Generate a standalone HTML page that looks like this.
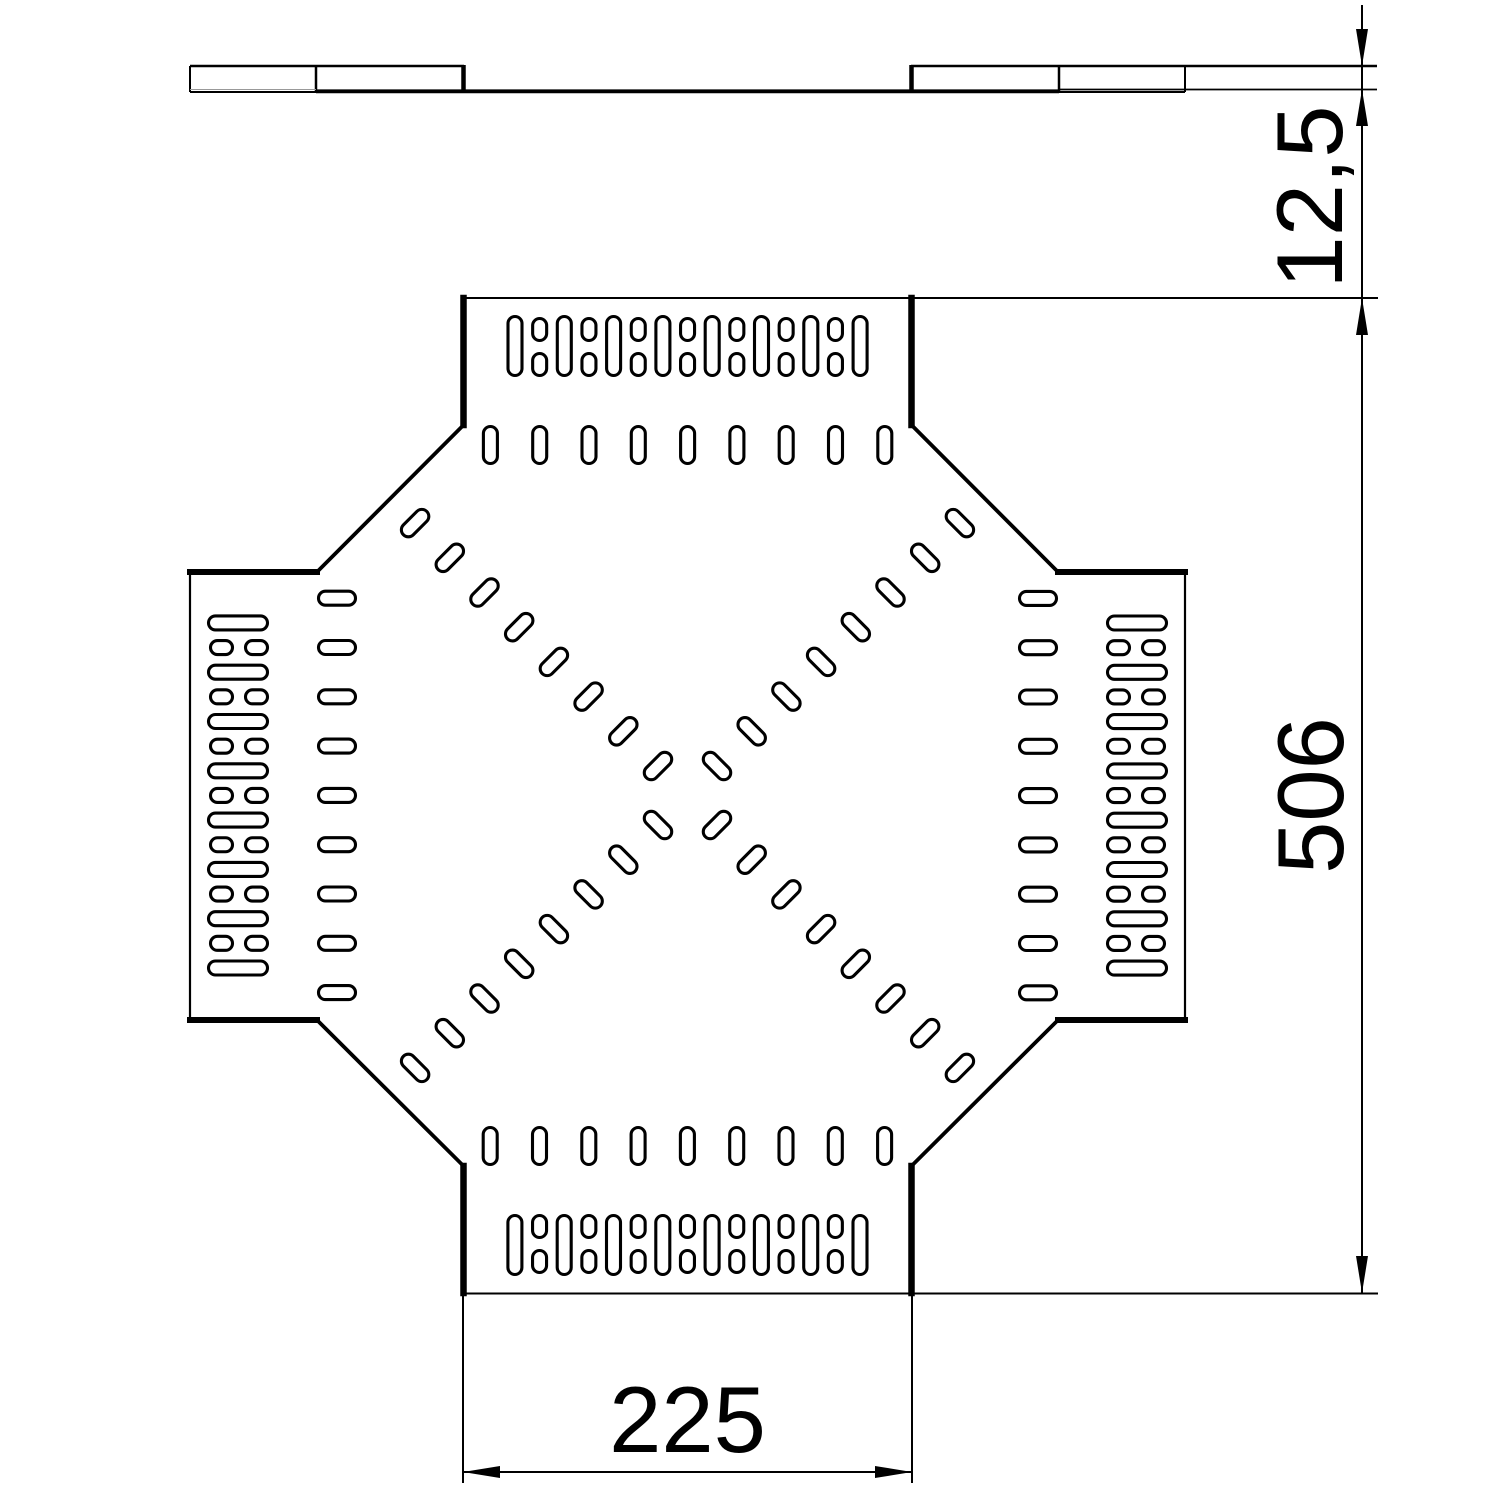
<!DOCTYPE html>
<html>
<head>
<meta charset="utf-8">
<style>
  html, body { margin: 0; padding: 0; background: #ffffff; }
  svg { display: block; }
  .s { fill: none; stroke: #000; stroke-width: 3.1; }
  text { font-family: "Liberation Sans", Arial, sans-serif; font-size: 94px; fill: #000; }
</style>
</head>
<body>
<svg width="1500" height="1500" viewBox="0 0 1500 1500" xmlns="http://www.w3.org/2000/svg">
  <rect x="0" y="0" width="1500" height="1500" fill="#fff"/>

  <defs>
    <g id="arm" class="s">
      <!-- long slots -->
      <rect x="508" y="316.5" width="14" height="59" rx="7"/>
      <rect x="557.3" y="316.5" width="14" height="59" rx="7"/>
      <rect x="606.6" y="316.5" width="14" height="59" rx="7"/>
      <rect x="655.9" y="316.5" width="14" height="59" rx="7"/>
      <rect x="705.2" y="316.5" width="14" height="59" rx="7"/>
      <rect x="754.5" y="316.5" width="14" height="59" rx="7"/>
      <rect x="803.8" y="316.5" width="14" height="59" rx="7"/>
      <rect x="853.1" y="316.5" width="14" height="59" rx="7"/>
      <!-- small pairs -->
      <rect x="532.65" y="318.5" width="14" height="22" rx="7"/>
      <rect x="532.65" y="353.5" width="14" height="22" rx="7"/>
      <rect x="581.95" y="318.5" width="14" height="22" rx="7"/>
      <rect x="581.95" y="353.5" width="14" height="22" rx="7"/>
      <rect x="631.25" y="318.5" width="14" height="22" rx="7"/>
      <rect x="631.25" y="353.5" width="14" height="22" rx="7"/>
      <rect x="680.55" y="318.5" width="14" height="22" rx="7"/>
      <rect x="680.55" y="353.5" width="14" height="22" rx="7"/>
      <rect x="729.85" y="318.5" width="14" height="22" rx="7"/>
      <rect x="729.85" y="353.5" width="14" height="22" rx="7"/>
      <rect x="779.15" y="318.5" width="14" height="22" rx="7"/>
      <rect x="779.15" y="353.5" width="14" height="22" rx="7"/>
      <rect x="828.45" y="318.5" width="14" height="22" rx="7"/>
      <rect x="828.45" y="353.5" width="14" height="22" rx="7"/>
      <!-- single slots row -->
      <rect x="483.4" y="426.5" width="14" height="37" rx="7"/>
      <rect x="532.7" y="426.5" width="14" height="37" rx="7"/>
      <rect x="582" y="426.5" width="14" height="37" rx="7"/>
      <rect x="631.3" y="426.5" width="14" height="37" rx="7"/>
      <rect x="680.6" y="426.5" width="14" height="37" rx="7"/>
      <rect x="729.9" y="426.5" width="14" height="37" rx="7"/>
      <rect x="779.2" y="426.5" width="14" height="37" rx="7"/>
      <rect x="828.5" y="426.5" width="14" height="37" rx="7"/>
      <rect x="877.8" y="426.5" width="14" height="37" rx="7"/>
    </g>
    <g id="diag" class="s">
      <rect x="-16.5" y="-7" width="33" height="14" rx="7" transform="translate(658,766) rotate(-45)"/>
      <rect x="-16.5" y="-7" width="33" height="14" rx="7" transform="translate(623.3,731.3) rotate(-45)"/>
      <rect x="-16.5" y="-7" width="33" height="14" rx="7" transform="translate(588.6,696.6) rotate(-45)"/>
      <rect x="-16.5" y="-7" width="33" height="14" rx="7" transform="translate(553.9,661.9) rotate(-45)"/>
      <rect x="-16.5" y="-7" width="33" height="14" rx="7" transform="translate(519.2,627.2) rotate(-45)"/>
      <rect x="-16.5" y="-7" width="33" height="14" rx="7" transform="translate(484.5,592.5) rotate(-45)"/>
      <rect x="-16.5" y="-7" width="33" height="14" rx="7" transform="translate(449.8,557.8) rotate(-45)"/>
      <rect x="-16.5" y="-7" width="33" height="14" rx="7" transform="translate(415.1,523.1) rotate(-45)"/>
    </g>
  </defs>

  <!-- ===== Side view (top) ===== -->
  <g stroke="#000" fill="none">
    <line x1="190" y1="66" x2="464" y2="66" stroke-width="2.5"/>
    <line x1="190" y1="66" x2="190" y2="92" stroke-width="2"/>
    <line x1="316" y1="66" x2="316" y2="92" stroke-width="2.5"/>
    <line x1="463.5" y1="65" x2="463.5" y2="93" stroke-width="4.5"/>
    <line x1="190" y1="92" x2="316" y2="92" stroke-width="2"/>
    <line x1="190" y1="89.5" x2="316" y2="89.5" stroke-width="1" stroke="#999"/>
    <line x1="316" y1="91.3" x2="1059" y2="91.3" stroke-width="3.8"/>

    <line x1="911" y1="66" x2="1377" y2="66" stroke-width="2.5"/>
    <line x1="1185" y1="66" x2="1185" y2="92" stroke-width="2"/>
    <line x1="1059" y1="66" x2="1059" y2="92" stroke-width="2.5"/>
    <line x1="911.5" y1="65" x2="911.5" y2="93" stroke-width="4.5"/>
    <line x1="1059" y1="92" x2="1185" y2="92" stroke-width="2"/>
    <line x1="1059" y1="89.5" x2="1377" y2="89.5" stroke-width="1.8"/>
  </g>

  <!-- ===== Plan outline ===== -->
  <g stroke="#000" fill="none" stroke-linecap="square">
    <!-- thin arm ends -->
    <line x1="463" y1="298" x2="1377" y2="298" stroke-width="2"/>
    <line x1="463" y1="1293.5" x2="1377" y2="1293.5" stroke-width="2"/>
    <line x1="190" y1="572" x2="190" y2="1020" stroke-width="2.2"/>
    <line x1="1185" y1="572" x2="1185" y2="1020" stroke-width="2.2"/>
    <!-- thick arm sides -->
    <line x1="463.5" y1="298" x2="463.5" y2="425" stroke-width="6.5"/>
    <line x1="911.5" y1="298" x2="911.5" y2="425" stroke-width="6.5"/>
    <line x1="463.5" y1="1166" x2="463.5" y2="1293" stroke-width="6.5"/>
    <line x1="911.5" y1="1166" x2="911.5" y2="1293" stroke-width="6.5"/>
    <line x1="190" y1="572" x2="317" y2="572" stroke-width="6"/>
    <line x1="190" y1="1020" x2="317" y2="1020" stroke-width="6"/>
    <line x1="1058" y1="572" x2="1185" y2="572" stroke-width="6"/>
    <line x1="1058" y1="1020" x2="1185" y2="1020" stroke-width="6"/>
    <!-- diagonals -->
    <line x1="463.5" y1="425" x2="317" y2="572" stroke-width="3.8"/>
    <line x1="911.5" y1="425" x2="1058" y2="572" stroke-width="3.8"/>
    <line x1="1058" y1="1020" x2="911.5" y2="1166" stroke-width="3.8"/>
    <line x1="317" y1="1020" x2="463.5" y2="1166" stroke-width="3.8"/>
  </g>

  <!-- ===== Slots ===== -->
  <use href="#arm"/>
  <use href="#arm" transform="rotate(90 687.5 795.5)"/>
  <use href="#arm" transform="rotate(180 687.5 795.5)"/>
  <use href="#arm" transform="rotate(270 687.5 795.5)"/>
  <use href="#diag"/>
  <use href="#diag" transform="rotate(90 687.5 795.5)"/>
  <use href="#diag" transform="rotate(180 687.5 795.5)"/>
  <use href="#diag" transform="rotate(270 687.5 795.5)"/>

  <!-- ===== Dimensions ===== -->
  <g stroke="#000" fill="none" stroke-width="2">
    <line x1="1362" y1="5" x2="1362" y2="1293"/>
    <line x1="463" y1="1293" x2="463" y2="1483"/>
    <line x1="912" y1="1293" x2="912" y2="1483"/>
    <line x1="463" y1="1472" x2="912" y2="1472"/>
  </g>
  <g fill="#000">
    <polygon points="1362,66 1356,29 1368,29"/>
    <polygon points="1362,89.5 1356,126 1368,126"/>
    <polygon points="1362,298 1356,335 1368,335"/>
    <polygon points="1362,1293 1356,1256 1368,1256"/>
    <polygon points="463,1472 500,1466 500,1478"/>
    <polygon points="912,1472 875,1466 875,1478"/>
  </g>

  <text x="0" y="0" text-anchor="middle" transform="translate(687.5,1452)">225</text>
  <text x="0" y="0" text-anchor="middle" transform="translate(1343,795.5) rotate(-90)">506</text>
  <text x="0" y="0" text-anchor="middle" transform="translate(1342,197) rotate(-90)">12,5</text>
</svg>
</body>
</html>
